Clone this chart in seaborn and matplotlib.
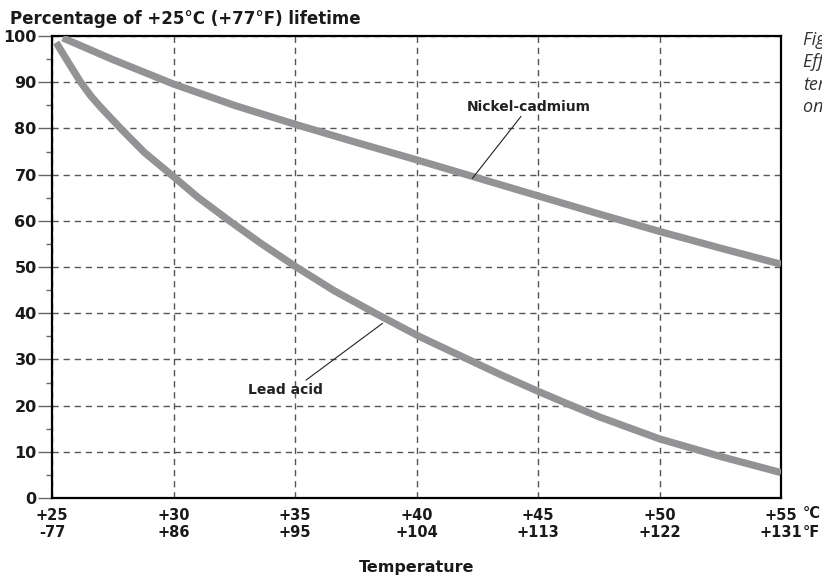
import matplotlib
matplotlib.use("Agg")
import matplotlib.pyplot as plt
import seaborn as sns
import pandas as pd

# ---- data ----
nicd_temp = [25.44, 27.5, 30, 32.5, 35, 37.5, 40, 42.5, 45, 47.5, 50, 52.5, 55]
nicd_pct = [99.6, 94.9, 89.6, 85.0, 80.9, 77.0, 73.2, 69.3, 65.4, 61.5, 57.7, 54.1, 50.6]
lead_temp = [25.17, 25.6, 26.18, 26.6, 27.0, 27.86, 28.8, 29.9, 31.0, 32.3, 33.6,
             35.05, 36.6, 38.3, 40.1, 42.0, 43.5, 45.0, 46.3, 47.5, 50.0, 52.5, 55.0]
lead_pct = [98.6, 94.9, 90.0, 87.0, 84.6, 79.8, 74.8, 70.0, 65.1, 60.0, 55.1,
            50.0, 44.9, 40.0, 35.0, 30.3, 26.6, 23.1, 20.2, 17.6, 12.8, 9.0, 5.5]
x_ticks_c = [25, 30, 35, 40, 45, 50, 55]
x_ticks_f = ["-77", "+86", "+95", "+104", "+113", "+122", "+131"]
y_ticks = [0, 10, 20, 30, 40, 50, 60, 70, 80, 90, 100]

df = pd.concat([
    pd.DataFrame({"temp": nicd_temp, "pct": nicd_pct, "battery": "Nickel-cadmium"}),
    pd.DataFrame({"temp": lead_temp, "pct": lead_pct, "battery": "Lead acid"}),
])

sns.set_theme(style="white")
plt.rcParams["font.family"] = ["DejaVu Sans"]

TXT = "#1a1a1a"
fig = plt.figure(figsize=(8.22, 5.77), dpi=100)
ax = fig.add_axes([52/822, 1 - 498/577, (781-52)/822, (498-36)/577])

sns.lineplot(data=df, x="temp", y="pct", hue="battery",
             palette={"Nickel-cadmium": "#939396", "Lead acid": "#939396"},
             linewidth=5.2, legend=False, ax=ax, sort=True,
             solid_capstyle="butt", solid_joinstyle="round", zorder=3)

ax.set_xlim(25, 55)
ax.set_ylim(0, 100)
ax.set_xticks(x_ticks_c)
ax.set_xticklabels([f"+{c}\n{f}" for c, f in zip(x_ticks_c, x_ticks_f)],
                   fontsize=10.5, fontweight="bold", linespacing=1.15, color=TXT)
ax.set_xticks([25, 55], minor=True)
ax.set_yticks(y_ticks)
ax.set_yticklabels([str(v) for v in y_ticks], fontsize=11.5, fontweight="bold",
                   color=TXT)
ax.set_yticks([5, 15, 25, 35, 45, 55, 65, 75, 85, 95], minor=True)

ax.grid(True, which="major", linestyle=(0, (4.5, 3.5)), color="#555555",
        linewidth=1.0)
ax.set_axisbelow(True)
for s in ax.spines.values():
    s.set_color("black")
    s.set_linewidth(1.6)
    s.set_visible(True)

ax.tick_params(axis="y", which="major", left=True, length=10, width=1.0,
               color="#666666", pad=1)
ax.tick_params(axis="y", which="minor", left=True, length=4, width=1.0,
               color="#666666")
ax.tick_params(axis="x", which="major", bottom=False, length=0, pad=7)
ax.tick_params(axis="x", which="minor", bottom=True, length=7, width=1.0,
               color="#666666")

ax.set_xlabel("Temperature", fontsize=11.5, fontweight="bold",
              labelpad=15, color=TXT)
ax.set_ylabel("")

# unit labels at right of last tick
ax.text(1.0 + 22/729, -0.017, "°C", transform=ax.transAxes, fontsize=10.5,
        fontweight="bold", ha="left", va="top", color=TXT)
ax.text(1.0 + 22/729, -0.058, "°F", transform=ax.transAxes, fontsize=10.5,
        fontweight="bold", ha="left", va="top", color=TXT)

# title
fig.text(10/822, 1 - 19/577, "Percentage of +25°C (+77°F) lifetime",
         fontsize=12, fontweight="bold", ha="left", va="center", color=TXT)

# annotations
ax.text(44.6, 84.6, "Nickel-cadmium", fontsize=10, fontweight="bold",
        ha="center", va="center", color="#222222")
ax.annotate("", xy=(42.3, 69.2), xytext=(44.3, 82.6),
            arrowprops=dict(arrowstyle="-", color="#222222", lw=0.8,
                            shrinkA=0, shrinkB=0))
ax.text(34.6, 23.4, "Lead acid", fontsize=10, fontweight="bold",
        ha="center", va="center", color="#222222")
ax.annotate("", xy=(38.6, 37.8), xytext=(35.45, 25.5),
            arrowprops=dict(arrowstyle="-", color="#222222", lw=0.8,
                            shrinkA=0, shrinkB=0))

# figure caption on the right (runs past the figure edge, as in the source)
fig.text(803/822, 1 - 31/577, "Figure 3\nEffect of\ntemperature\non lifetime",
         fontsize=13, style="italic", family=["Open Sans", "DejaVu Sans"],
         color="#333333", ha="left", va="top", linespacing=1.32)

fig.savefig("out.png", dpi=100)
